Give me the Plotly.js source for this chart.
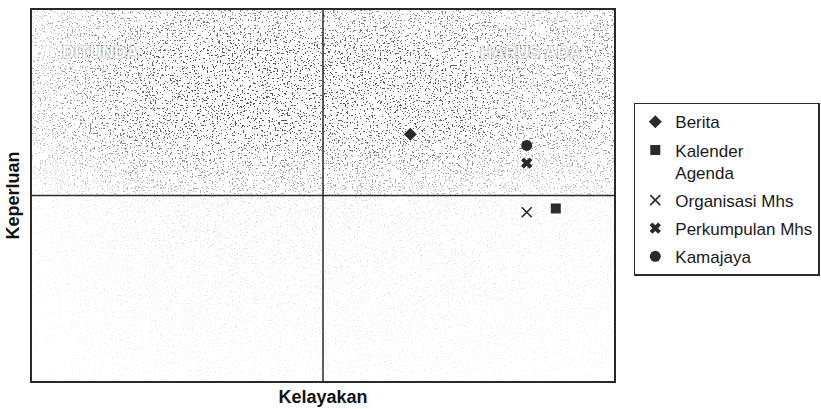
<!DOCTYPE html>
<html>
<head>
<meta charset="utf-8">
<script src="https://cdn.plot.ly/plotly-3.0.1.min.js"></script>
<style>
  html, body { margin: 0; padding: 0; background: #ffffff; }
  #chart { width: 821px; height: 409px; }
</style>
</head>
<body>
<div id="chart"></div>
<script>
// ---- data ----
const seriesNames = ['Berita', 'Kalender<br>Agenda', 'Organisasi Mhs', 'Perkumpulan Mhs', 'Kamajaya'];
const kelayakan  = [3.60, 4.60, 4.40, 4.40, 4.40];   // x values
const keperluan  = [3.66, 2.86, 2.82, 3.35, 3.54];   // y values
const quadrantLabels = ['DITUNDA', 'HARUS ADA'];
const axisRange = [1, 5];
const midValue = 3;

// ---- styles ----
const symbols = ['diamond', 'square', 'x-thin-open', 'x', 'circle'];
const sizes   = [10, 10, 10, 10, 11];
const ink = '#2a2a2a';

const traces = seriesNames.map((name, i) => ({
  type: 'scatter',
  mode: 'markers',
  name: name,
  x: [kelayakan[i]],
  y: [keperluan[i]],
  legendgroup: 'g' + i,
  marker: {
    symbol: symbols[i],
    size: sizes[i],
    color: ink,
    line: { color: ink, width: symbols[i] === 'x-thin-open' ? 1.6 : 0 }
  },
  hoverinfo: 'x+y+name'
}));

// stippled paper texture (deterministic SVG turbulence filter)
const svg =
"<svg xmlns='http://www.w3.org/2000/svg' width='582' height='371' viewBox='0 0 582 371'>" +
"<defs>" +
"<filter id='n' x='0' y='0' width='100%' height='100%' color-interpolation-filters='sRGB'>" +
"<feTurbulence type='fractalNoise' baseFrequency='0.6' numOctaves='2' seed='11' result='t'/>" +
"<feColorMatrix in='t' type='matrix' values='0 0 0 0 0.3  0 0 0 0 0.3  0 0 0 0 0.3  1 0 0 0 0'/>" +
"<feComponentTransfer><feFuncA type='discrete' tableValues='0 0 0 0 0 0 0 0 0 0 0 0 0 1 1 1 1 1 1 1'/></feComponentTransfer>" +
"</filter>" +
"<linearGradient id='gv' x1='0' y1='0' x2='0' y2='1'>" +
"<stop offset='0' stop-color='#fff' stop-opacity='0.65'/>" +
"<stop offset='0.12' stop-color='#fff' stop-opacity='0.95'/>" +
"<stop offset='0.32' stop-color='#fff' stop-opacity='0.95'/>" +
"<stop offset='0.44' stop-color='#fff' stop-opacity='0.55'/>" +
"<stop offset='0.5' stop-color='#fff' stop-opacity='0.42'/>" +
"<stop offset='0.505' stop-color='#fff' stop-opacity='0.16'/>" +
"<stop offset='0.75' stop-color='#fff' stop-opacity='0.11'/>" +
"<stop offset='1' stop-color='#fff' stop-opacity='0.06'/>" +
"</linearGradient>" +
"<linearGradient id='gh' x1='0' y1='0' x2='1' y2='0'>" +
"<stop offset='0' stop-color='#000' stop-opacity='0.6'/>" +
"<stop offset='0.15' stop-color='#000' stop-opacity='0.2'/>" +
"<stop offset='0.3' stop-color='#000' stop-opacity='0'/>" +
"<stop offset='0.75' stop-color='#000' stop-opacity='0.1'/>" +
"<stop offset='0.85' stop-color='#000' stop-opacity='0.3'/>" +
"<stop offset='1' stop-color='#000' stop-opacity='0.3'/>" +
"</linearGradient>" +
"<mask id='m'><rect width='582' height='371' fill='url(#gv)'/><rect width='582' height='371' fill='url(#gh)'/></mask>" +
"</defs>" +
"<g mask='url(#m)'><rect width='582' height='371' fill='#000' filter='url(#n)'/></g>" +
"</svg>";
const texture = 'data:image/svg+xml;charset=utf-8,' + encodeURIComponent(svg);

const labelFont = { size: 17, weight: 'bold', color: '#ffffff', shadow: '0px 0px 2px #666' };

const layout = {
  width: 821,
  height: 409,
  margin: { l: 32, r: 207, t: 10, b: 28, autoexpand: false },
  paper_bgcolor: '#ffffff',
  plot_bgcolor: 'rgba(0,0,0,0)',
  font: { family: 'Liberation Sans, Arial, sans-serif', color: '#1a1a1a' },
  showlegend: true,
  legend: {
    x: 1.034, xanchor: 'left',
    y: 0.75, yanchor: 'top',
    bgcolor: '#ffffff',
    bordercolor: '#2a2a2a',
    borderwidth: 1.5,
    font: { size: 17, color: '#1a1a1a' },
    tracegroupgap: 3,
    traceorder: 'grouped',
    valign: 'top',
    itemwidth: 30
  },
  xaxis: {
    range: axisRange,
    showgrid: false, zeroline: false,
    showticklabels: false, ticks: '',
    showline: true, mirror: true, linecolor: ink, linewidth: 2,
    title: { text: 'Kelayakan', font: { size: 18, weight: 'bold', color: '#111' }, standoff: 8 },
    fixedrange: true
  },
  yaxis: {
    range: axisRange,
    showgrid: false, zeroline: false,
    showticklabels: false, ticks: '',
    showline: true, mirror: true, linecolor: ink, linewidth: 2,
    title: { text: 'Keperluan', font: { size: 18, weight: 'bold', color: '#111' }, standoff: 6 },
    fixedrange: true
  },
  images: [{
    source: texture,
    xref: 'paper', yref: 'paper',
    x: 0, y: 1, sizex: 1, sizey: 1,
    xanchor: 'left', yanchor: 'top',
    sizing: 'stretch', layer: 'below', opacity: 1
  }],
  shapes: [
    { type: 'line', xref: 'x', yref: 'paper', x0: midValue, x1: midValue, y0: 0, y1: 1,
      line: { color: ink, width: 1.5 } },
    { type: 'line', xref: 'paper', yref: 'y', x0: 0, x1: 1, y0: midValue, y1: midValue,
      line: { color: ink, width: 1.5 } }
  ],
  annotations: [
    { text: quadrantLabels[0], xref: 'paper', yref: 'paper', x: 0.118, y: 0.885,
      xanchor: 'center', yanchor: 'middle',
      showarrow: false, font: labelFont },
    { text: quadrantLabels[1], xref: 'paper', yref: 'paper', x: 0.857, y: 0.885,
      xanchor: 'center', yanchor: 'middle',
      showarrow: false, font: labelFont }
  ]
};

Plotly.newPlot('chart', traces, layout, { displayModeBar: false, staticPlot: true });
</script>
</body>
</html>
